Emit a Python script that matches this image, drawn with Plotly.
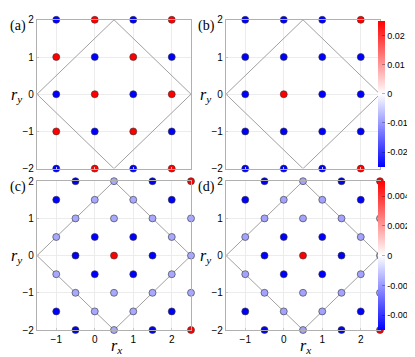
import plotly.graph_objects as go

# ---------------- data ----------------
# top panels (a), (b): integer lattice
top_x = [-1, 0, 1, 2,  -1, 0, 1, 2,  -1, 0, 1, 2,  -1, 0, 1, 2,  -1, 0, 1, 2]
top_y = [2, 2, 2, 2,  1, 1, 1, 1,  0, 0, 0, 0,  -1, -1, -1, -1,  -2, -2, -2, -2]
vals_a = [-0.025, 0.025, -0.025, 0.025,
          0.025, -0.025, 0.025, -0.025,
          -0.025, 0.025, -0.025, 0.025,
          0.025, -0.025, 0.025, -0.025,
          -0.025, 0.025, -0.025, 0.025]
vals_b = [-0.025, -0.025, -0.025, 0.025,
          -0.025, -0.025, -0.025, -0.025,
          -0.025, 0.025, -0.025, -0.025,
          -0.025, -0.025, -0.025, -0.025,
          -0.025, -0.025, -0.025, 0.025]

# bottom panels (c), (d): shifted lattice
bot_x = [-0.5, 0.5, 1.5, 2.5,
         -1, 0, 1, 2,
         -0.5, 0.5, 1.5, 2.5,
         -1, 0, 1, 2,
         -0.5, 0.5, 1.5, 2.5,
         -1, 0, 1, 2,
         -0.5, 0.5, 1.5, 2.5,
         -1, 0, 1, 2,
         -0.5, 0.5, 1.5, 2.5]
bot_y = [2, 2, 2, 2,
         1.5, 1.5, 1.5, 1.5,
         1, 1, 1, 1,
         0.5, 0.5, 0.5, 0.5,
         0, 0, 0, 0,
         -0.5, -0.5, -0.5, -0.5,
         -1, -1, -1, -1,
         -1.5, -1.5, -1.5, -1.5,
         -2, -2, -2, -2]
vals_c = [-0.005, -0.0017, -0.005, 0.005,
          -0.005, -0.0017, -0.0017, -0.005,
          -0.0017, -0.0017, -0.0017, -0.0017,
          -0.0017, -0.005, -0.005, -0.0017,
          -0.005, 0.005, -0.005, -0.0017,
          -0.0017, -0.005, -0.005, -0.0017,
          -0.0017, -0.0017, -0.0017, -0.0017,
          -0.005, -0.0017, -0.0017, -0.005,
          -0.005, -0.0017, -0.005, 0.005]
vals_d = [-0.005, -0.0018, -0.005, 0.005,
          -0.005, -0.0018, -0.0018, -0.005,
          -0.0018, -0.0018, -0.0018, -0.0018,
          -0.0018, -0.005, -0.005, -0.0018,
          -0.005, 0.005, -0.005, -0.0018,
          -0.0018, -0.005, -0.005, -0.0018,
          -0.0018, -0.0018, -0.0018, -0.0018,
          -0.005, -0.0018, -0.0018, -0.005,
          -0.005, -0.0018, -0.005, 0.005]

# Brillouin-zone-like diamond boundary
diamond_x = [0.5, 2.5, 0.5, -1.5, 0.5]
diamond_y = [2, 0, -2, 0, 2]

x_ticks = [-1, 0, 1, 2]
y_ticks = [-2, -1, 0, 1, 2]
top_cbar_ticks = [-0.02, -0.01, 0, 0.01, 0.02]
top_cbar_text = ["-0.02", "-0.01", "0", "0.01", "0.02"]
bot_cbar_ticks = [-0.004, -0.002, 0, 0.002, 0.004]
bot_cbar_text = ["-0.004", "-0.002", "0", "0.002", "0.004"]
panel_labels = ["(a)", "(b)", "(c)", "(d)"]

# ---------------- figure ----------------
W, H = 415, 357
fig = go.Figure()

def px_x(p):
    return p / W

def px_y(p):
    return 1 - p / H

panels = [
    ("x", "y", 29, 183, 6, 160, top_x, top_y, vals_a, "coloraxis"),
    ("x2", "y2", 218, 372, 6, 160, top_x, top_y, vals_b, "coloraxis"),
    ("x3", "y3", 29, 183, 173, 327, bot_x, bot_y, vals_c, "coloraxis2"),
    ("x4", "y4", 218, 372, 173, 327, bot_x, bot_y, vals_d, "coloraxis2"),
]

cs = [[0, "rgb(0,0,255)"], [0.5, "rgb(255,255,255)"], [1, "rgb(255,0,0)"]]
axis_common = dict(
    showline=True, mirror=True, linecolor="#b0b0b0", linewidth=1.2,
    showgrid=True, gridcolor="#ececec", gridwidth=1, zeroline=False,
    ticks="inside", ticklen=2, tickcolor="#c8c8c8",
    tickfont=dict(family="Liberation Sans, Arial", size=10, color="black"),
    fixedrange=True,
)

serif = "Liberation Serif, Times New Roman"

for i, (xa, ya, x0, x1, yt, yb, xs, ys, vs, cax) in enumerate(panels):
    fig.add_trace(go.Scatter(
        x=diamond_x, y=diamond_y, mode="lines",
        line=dict(color="#a0a0a0", width=1), xaxis=xa, yaxis=ya,
        showlegend=False, hoverinfo="skip"))
    fig.add_trace(go.Scatter(
        x=xs, y=ys, mode="markers", xaxis=xa, yaxis=ya, cliponaxis=False,
        marker=dict(size=7, color=vs, coloraxis=cax,
                    line=dict(color="#333333", width=0.6)),
        showlegend=False))
    xk = "xaxis" + ("" if xa == "x" else xa[1:])
    yk = "yaxis" + ("" if ya == "y" else ya[1:])
    xax = dict(axis_common)
    xax.update(domain=[px_x(x0), px_x(x1)], range=[-1.5, 2.5], anchor=ya,
               tickvals=x_ticks, showticklabels=(i >= 2))
    yax = dict(axis_common)
    yax.update(domain=[px_y(yb), px_y(yt)], range=[-2, 2], anchor=xa,
               tickvals=y_ticks)
    fig.update_layout({xk: xax, yk: yax})
    fig.add_annotation(text=panel_labels[i], xref="paper", yref="paper",
                       x=px_x(x0 - 9), y=px_y(yt - 4), xanchor="right", yanchor="top",
                       showarrow=False,
                       font=dict(family=serif, size=14, color="black"))
    fig.add_annotation(text="<i>r</i><sub><i>y</i></sub>", xref="paper", yref="paper",
                       x=px_x(x0 - 13), y=px_y((yt + yb) / 2 + 1), xanchor="right", yanchor="middle",
                       showarrow=False,
                       font=dict(family=serif, size=16, color="black"))
    if i >= 2:
        fig.add_annotation(text="<i>r</i><sub><i>x</i></sub>", xref="paper", yref="paper",
                           x=px_x((x0 + x1) / 2 + 2), y=px_y(344), xanchor="center", yanchor="middle",
                           showarrow=False,
                           font=dict(family=serif, size=16, color="black"))

cb_common = dict(thickness=7, thicknessmode="pixels", lenmode="fraction",
                 x=px_x(370), xanchor="left", yanchor="top", xpad=0, ypad=0,
                 outlinewidth=0, ticks="inside", ticklen=3, tickcolor="rgba(0,0,0,0.3)",
                 tickfont=dict(family="Liberation Sans, Arial", size=9, color="black"))

fig.update_layout(
    width=W, height=H, margin=dict(l=0, r=0, t=0, b=0),
    paper_bgcolor="white", plot_bgcolor="white",
    coloraxis=dict(colorscale=cs, cmin=-0.025, cmax=0.025,
                   colorbar=dict(cb_common, y=px_y(7), len=151 / H,
                                 tickvals=top_cbar_ticks, ticktext=top_cbar_text)),
    coloraxis2=dict(colorscale=cs, cmin=-0.005, cmax=0.005,
                    colorbar=dict(cb_common, y=px_y(173), len=154 / H,
                                  tickvals=bot_cbar_ticks, ticktext=bot_cbar_text)),
)

fig.write_html("out.html")
